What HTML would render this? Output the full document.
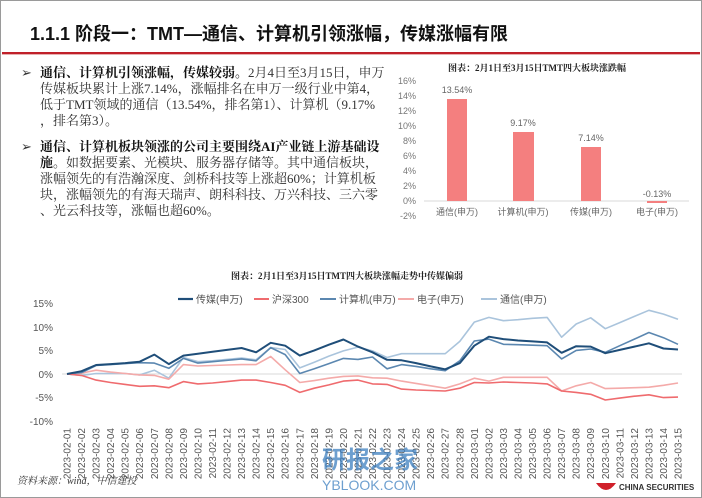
<!DOCTYPE html>
<html><head><meta charset="utf-8">
<style>
body{margin:0;width:702px;height:498px;background:#fff;overflow:hidden;font-family:"Liberation Serif","Noto Serif CJK SC",serif;}
#pg{position:absolute;left:0;top:0;width:700px;height:496px;border:1px solid #9a9a9a;}
.t{position:absolute;white-space:nowrap;}
</style></head><body>
<div id="pg"></div>
<div class="t" style="left:30px;top:20px;font:bold 18px 'Liberation Sans','Noto Sans CJK SC',sans-serif;color:#111;">1.1.1 阶段一：TMT—通信、计算机引领涨幅，传媒涨幅有限</div>
<div style="position:absolute;left:2px;top:52px;width:698px;height:2px;background:#c0202a;"></div>
<div style="position:absolute;left:2px;top:54px;width:698px;height:1px;background:#e8b0b0;"></div>
<div style="font-size:13px;color:#333;line-height:16px;">
<div class="t" style="left:21px;top:65px;">➢</div>
<div class="t" style="left:40px;top:65px;"><b style="color:#111">通信、计算机引领涨幅，传媒较弱。</b>2月4日至3月15日，申万</div>
<div class="t" style="left:40px;top:81px;">传媒板块累计上涨7.14%，涨幅排名在申万一级行业中第4，</div>
<div class="t" style="left:40px;top:97px;">低于TMT领域的通信（13.54%，排名第1）、计算机（9.17%</div>
<div class="t" style="left:40px;top:113px;">，排名第3）。</div>
<div class="t" style="left:21px;top:139px;">➢</div>
<div class="t" style="left:40px;top:139px;"><b style="color:#111">通信、计算机板块领涨的公司主要围绕AI产业链上游基础设</b></div>
<div class="t" style="left:40px;top:155px;"><b style="color:#111">施</b>。如数据要素、光模块、服务器存储等。其中通信板块，</div>
<div class="t" style="left:40px;top:171px;">涨幅领先的有浩瀚深度、剑桥科技等上涨超60%；计算机板</div>
<div class="t" style="left:40px;top:187px;">块，涨幅领先的有海天瑞声、朗科科技、万兴科技、三六零</div>
<div class="t" style="left:40px;top:203px;">、光云科技等，涨幅也超60%。</div>
</div>
<svg width="702" height="498" style="position:absolute;left:0;top:0" font-family="Liberation Sans,Noto Sans CJK SC,sans-serif">
<text x="537" y="71" font-size="9" font-weight="bold" text-anchor="middle" fill="#222" font-family="Liberation Serif,Noto Serif CJK SC,serif">图表：2月1日至3月15日TMT四大板块涨跌幅</text>
<g font-size="9" fill="#777" text-anchor="end">
<text x="416" y="84">16%</text><text x="416" y="99">14%</text><text x="416" y="114">12%</text><text x="416" y="129">10%</text><text x="416" y="144">8%</text><text x="416" y="159">6%</text><text x="416" y="174">4%</text><text x="416" y="189">2%</text><text x="416" y="204">0%</text><text x="416" y="219">-2%</text>
</g>
<line x1="424" y1="201" x2="689" y2="201" stroke="#d9d9d9"/>
<g fill="#f47f7f">
<rect x="447" y="99" width="20" height="102"/>
<rect x="513" y="132" width="21" height="69"/>
<rect x="581" y="147" width="20" height="54"/>
<rect x="647" y="201" width="20" height="2"/>
</g>
<g font-size="9" fill="#666" text-anchor="middle">
<text x="457" y="93">13.54%</text><text x="523" y="126">9.17%</text><text x="591" y="141">7.14%</text><text x="657" y="197">-0.13%</text>
<text x="457" y="215">通信(申万)</text><text x="523" y="215">计算机(申万)</text><text x="591" y="215">传媒(申万)</text><text x="657" y="215">电子(申万)</text>
</g>
<text x="347" y="279" font-size="9" font-weight="bold" text-anchor="middle" fill="#222" font-family="Liberation Serif,Noto Serif CJK SC,serif">图表：2月1日至3月15日TMT四大板块涨幅走势中传媒偏弱</text>
<g font-size="10" fill="#555">
<line x1="178" y1="299" x2="193" y2="299" stroke="#1f4e79" stroke-width="2.2"/><text x="196" y="303">传媒(申万)</text>
<line x1="254" y1="299" x2="269" y2="299" stroke="#ef6b6e" stroke-width="2"/><text x="272" y="303">沪深300</text>
<line x1="320" y1="299" x2="336" y2="299" stroke="#5b87b0" stroke-width="2"/><text x="339" y="303">计算机(申万)</text>
<line x1="398" y1="299" x2="414" y2="299" stroke="#f4aaa9" stroke-width="2"/><text x="417" y="303">电子(申万)</text>
<line x1="481" y1="299" x2="497" y2="299" stroke="#aac4dc" stroke-width="2"/><text x="500" y="303">通信(申万)</text>
</g>
<g font-size="10" fill="#555" text-anchor="end">
<text x="53" y="307">15%</text><text x="53" y="331">10%</text><text x="53" y="354">5%</text><text x="53" y="378">0%</text><text x="53" y="401">-5%</text><text x="53" y="425">-10%</text>
</g>
<line x1="62" y1="374" x2="682" y2="374" stroke="#d9d9d9"/>
<g id="lines"></g>
<g id="dates" font-size="10" fill="#555"></g>
<text x="17" y="484" font-size="10" font-style="italic" fill="#333" font-family="Liberation Serif,Noto Serif CJK SC,serif">资料来源：wind，中信建投</text>
<text x="322" y="468" font-size="24" font-weight="bold" fill="#3d7fc0" opacity="0.75">研报之家</text>
<text x="322" y="490" font-size="14" fill="#3d7fc0" opacity="0.75">YBLOOK.COM</text>
<path d="M596 483 Q606 497 616 483 Z" fill="#d0202a"/>
<text x="619" y="490" font-size="8" font-weight="bold" fill="#333">CHINA SECURITIES</text>
</svg>
<script>
var S=[
["#aac4dc",1.6,[0,-0.3,0.1,0.1,0.1,-0.2,0.8,-0.9,3.5,2.6,2.8,3.1,3.4,3.0,5.6,5.2,1.3,2.5,3.8,4.9,5.7,4.9,3.5,4.3,4.3,4.3,4.3,6.9,11.0,12.0,11.3,11.5,11.8,12.0,7.8,10.6,11.9,9.6,10.9,12.2,13.5,12.7,11.6]],
["#f4aaa9",1.6,[0,0.2,0.8,0.4,0.1,-0.2,-0.3,-1.1,2.0,1.7,1.8,1.9,2.0,2.0,3.7,0.9,-1.8,-1.4,-0.9,-0.5,-0.4,-0.8,-0.9,-1.5,-2.0,-2.5,-3.0,-2.1,-0.9,-1.5,-0.7,-0.7,-0.7,-0.7,-3.6,-2.5,-1.8,-3.1,-3.0,-2.9,-2.8,-2.4,-1.9]],
["#5b87b0",1.6,[0,0.3,1.8,2.0,2.2,2.4,2.3,1.2,3.3,2.3,2.6,2.9,3.2,2.8,5.6,4.1,0.1,1.1,2.2,3.3,3.1,3.6,1.1,2.0,1.6,1.1,0.7,2.8,7.0,7.4,6.3,6.2,6.1,6.0,3.2,5.0,5.3,4.6,6.0,7.4,8.8,7.7,6.3]],
["#ef6b6e",1.6,[0,-0.3,-1.3,-1.8,-2.2,-2.6,-2.5,-2.9,-1.6,-2.1,-1.9,-1.6,-1.3,-1.3,-1.8,-2.4,-3.9,-3.0,-2.3,-1.5,-1.3,-2.1,-2.2,-3.2,-3.4,-3.5,-3.6,-3.0,-1.8,-1.9,-1.7,-1.8,-1.9,-2.1,-3.6,-3.9,-4.3,-5.5,-5.1,-4.7,-4.4,-5.0,-4.9]],
["#1f4e79",2,[0,0.6,1.9,2.1,2.3,2.6,4.1,2.1,3.9,4.3,4.7,5.1,5.5,4.6,6.6,6.0,3.9,5.0,6.2,7.3,5.8,4.6,3.0,2.9,2.3,1.6,1.0,2.3,6.0,7.9,7.4,7.1,6.9,6.7,4.5,5.9,5.8,4.4,5.1,5.8,6.5,5.4,5.2]]];
var ns="http://www.w3.org/2000/svg",g=document.getElementById("lines"),d=document.getElementById("dates");
function X(i){return 67+i*(611/42);}
S.forEach(function(s){var p=s[2].map(function(v,i){return X(i).toFixed(1)+","+(374-v*4.72).toFixed(1)}).join(" ");
var e=document.createElementNS(ns,"polyline");e.setAttribute("points",p);e.setAttribute("fill","none");e.setAttribute("stroke",s[0]);e.setAttribute("stroke-width",s[1]);e.setAttribute("stroke-linejoin","round");g.appendChild(e);});
for(var i=0;i<43;i++){var m=i<28?"02":"03",dd=i<28?i+1:i-27;var t=document.createElementNS(ns,"text");
var x=X(i)+3.5;t.setAttribute("transform","translate("+x.toFixed(1)+",428) rotate(-90)");t.setAttribute("text-anchor","end");
t.textContent="2023-"+m+"-"+(dd<10?"0"+dd:dd);d.appendChild(t);}
</script>
</body></html>
